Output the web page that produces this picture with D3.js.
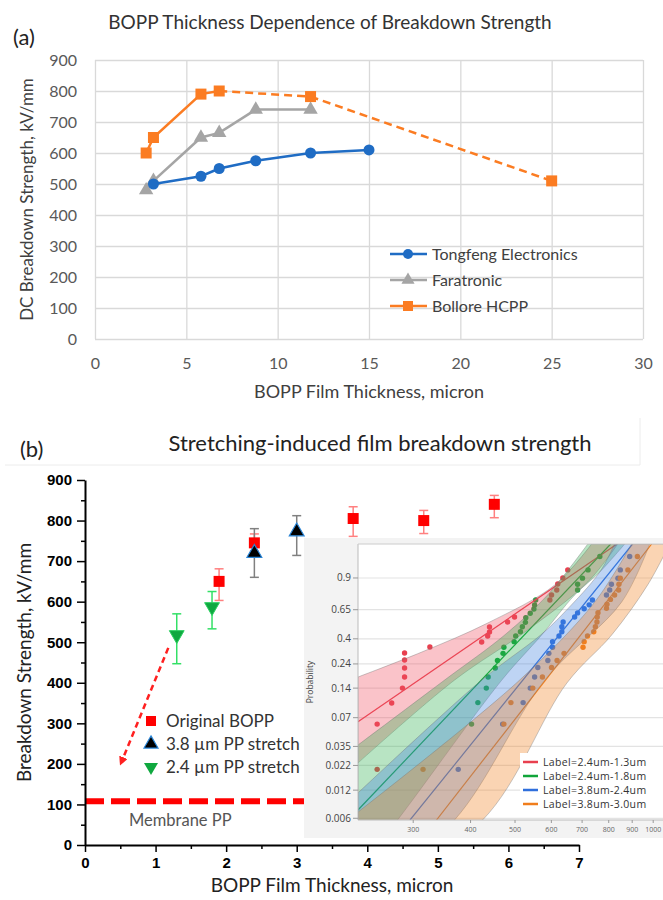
<!DOCTYPE html>
<html><head><meta charset="utf-8">
<script src="https://cdn.jsdelivr.net/npm/d3@7/dist/d3.min.js"></script>
<style>html,body{margin:0;padding:0;background:#fff;} svg{display:block;}</style>
</head><body>
<svg id="fig" width="663" height="900"></svg>
<script>
// ================= Panel (a) data =================
const seriesNamesA = ["Tongfeng Electronics", "Faratronic", "Bollore HCPP"];
const tongfengThickness = [3.2, 5.8, 6.8, 8.8, 11.8, 15];
const tongfengStrength  = [500, 525, 550, 575, 600, 610];
const faratronicThickness = [2.8, 3.2, 5.8, 6.8, 8.8, 11.8];
const faratronicStrength  = [480, 510, 650, 665, 740, 740];
const bolloreThickness = [2.8, 3.2, 5.8, 6.8, 11.8, 25];
const bolloreStrength  = [600, 650, 790, 800, 782, 510];
const bolloreDashedFrom = 3;
const aXTicks = [0, 5, 10, 15, 20, 25, 30];
const aYTicks = [0, 100, 200, 300, 400, 500, 600, 700, 800, 900];

// ================= Panel (b) data =================
const bXTicks = [0, 1, 2, 3, 4, 5, 6, 7];
const bXMinor = [0.5, 1.5, 2.5, 3.5, 4.5, 5.5, 6.5];
const bYTicks = [0, 100, 200, 300, 400, 500, 600, 700, 800, 900];
const bYMinor = [50, 150, 250, 350, 450, 550, 650, 750, 850];
const seriesNamesB = ["Original BOPP", "3.8 \u00b5m PP stretch", "2.4 \u00b5m PP stretch"];
const originalThickness = [1.9, 2.4, 3.8, 4.8, 5.8];
const originalStrength  = [650, 745, 805, 800, 840];
const originalLow       = [603, 725, 761, 768, 807];
const originalHigh      = [681, 767, 834, 825, 862];
const stretch38Thickness = [2.4, 3.0];
const stretch38Strength  = [720, 773];
const stretch38Low       = [660, 714];
const stretch38High      = [780, 812];
const stretch24Thickness = [1.3, 1.8];
const stretch24Strength  = [518, 587];
const stretch24Low       = [447, 533];
const stretch24High      = [570, 625];
const membraneStrength = 108;
const membraneLabel = "Membrane PP";
const arrowStart = [1.18, 486];
const arrowEnd   = [0.52, 206];

// ================= Inset (Weibull) data =================
const insetNames = ["Label=2.4um-1.3um", "Label=2.4um-1.8um", "Label=3.8um-2.4um", "Label=3.8um-3.0um"];
const insetPTicks = [0.9, 0.65, 0.4, 0.24, 0.14, 0.07, 0.035, 0.022, 0.012, 0.006];
const insetXTicks = [300, 400, 500, 600, 700, 800, 900, 1000];
const insetXDomain = [228, 1000];
const insetPDomain = [0.00575, 0.9952];

const redX = [251,251,270,285,288,288,288,288,327,424,437,441,441,483,500,597,602,618,621,637,653];
const redP = [0.020,0.060,0.099,0.140,0.180,0.220,0.261,0.302,0.341,0.376,0.422,0.454,0.496,0.539,0.584,0.737,0.779,0.819,0.862,0.900,0.940];
const greenX = [403,416,434,438,454,459,472,474,499,503,515,520,528,529,541,551,553,556,686,686,703,723,767];
const greenP = [0.060,0.100,0.140,0.180,0.220,0.258,0.300,0.339,0.379,0.422,0.456,0.498,0.536,0.578,0.618,0.657,0.693,0.737,0.819,0.861,0.899,0.940,0.980];
const blueX = [377,471,522,541,553,562,591,594,605,605,625,634,634,638,676,686,709,727,739,793,806,813,840,850,891];
const blueP = [0.020,0.060,0.100,0.140,0.180,0.222,0.258,0.300,0.339,0.379,0.422,0.456,0.498,0.539,0.584,0.621,0.659,0.694,0.737,0.779,0.819,0.861,0.899,0.940,0.980];
const orangeX = [316,474,491,548,575,602,619,641,705,709,721,744,750,756,757,760,793,795,809,826,843,844,850,883,926];
const orangeP = [0.020,0.060,0.100,0.140,0.180,0.222,0.258,0.300,0.339,0.379,0.422,0.456,0.498,0.539,0.584,0.623,0.663,0.699,0.742,0.779,0.819,0.861,0.899,0.940,0.980];

const fitRed    = [[228, 0.0636], [836, 0.9952]];
const fitGreen  = [[228, 0.00736], [810, 0.9952]];
const fitBlue   = [[296, 0.00575], [904, 0.9952]];
const fitOrange = [[338, 0.00575], [995, 0.9952]];

const bandRedUpper    = [[228,0.180],[314,0.308],[437,0.530],[612,0.856],[736,0.9952]];
const bandRedLower    = [[228,0.0234],[370,0.168],[534,0.470],[722,0.876],[839,0.9952]];
const bandGreenUpper  = [[228,0.0362],[352,0.168],[476,0.430],[590,0.779],[722,0.9952]];
const bandGreenLower  = [[228,0.00167],[278,0.00575],[469,0.168],[573,0.430],[676,0.779],[767,0.931],[869,0.9952]];
const bandBlueUpper   = [[228,0.0112],[424,0.168],[570,0.430],[643,0.629],[767,0.931],[826,0.9952]];
const bandBlueLower   = [[228,0.0008],[370,0.00575],[582,0.168],[856,0.720],[985,0.9952]];
const bandOrangeUpper = [[228,0.0070],[513,0.168],[748,0.720],[900,0.9952]];
const bandOrangeLower = [[228,0.0008],[426,0.00575],[650,0.157],[814,0.430],[975,0.856],[1089,0.9952]];

// ================= drawing =================
const svg = d3.select("#fig");
const FC = "Lato, 'Open Sans', sans-serif";
const FA = "'Liberation Sans', Arial, sans-serif";
const FO = "'Open Sans', 'Noto Sans', sans-serif";

// ---------- Panel (a) ----------
const colA = ["#1f6cc4", "#a5a5a5", "#fb7c22"];
const ax = d3.scaleLinear().domain([0, 30]).range([95, 643]);
const ay = d3.scaleLinear().domain([0, 900]).range([339, 60]);
const gA = svg.append("g");

gA.append("text").attr("x", 13).attr("y", 45).text("(a)")
  .attr("font-family", FC).attr("font-size", 22).attr("fill", "#222");
gA.append("text").attr("x", 330).attr("y", 29).attr("text-anchor", "middle")
  .text("BOPP Thickness Dependence of Breakdown Strength")
  .attr("font-family", FC).attr("font-size", 19).attr("fill", "#333");

gA.append("g").attr("transform", `translate(0,${ay(0)})`)
  .call(d3.axisBottom(ax).tickValues(aXTicks).tickSize(-(ay(0) - ay(900))).tickPadding(19))
  .call(g => {
    g.select(".domain").remove();
    g.selectAll(".tick line").attr("stroke", "#d9d9d9").attr("stroke-width", 1.3);
    g.selectAll("text").attr("font-family", FC).attr("font-size", 16).attr("fill", "#595959");
  });
gA.append("g").attr("transform", `translate(${ax(0)},0)`)
  .call(d3.axisLeft(ay).tickValues(aYTicks).tickSize(-(ax(30) - ax(0))).tickPadding(18))
  .call(g => {
    g.select(".domain").remove();
    g.selectAll(".tick line").attr("stroke", "#d9d9d9").attr("stroke-width", 1.3);
    g.selectAll("text").attr("font-family", FC).attr("font-size", 16).attr("fill", "#595959");
  });

gA.append("text").attr("x", 369).attr("y", 398).attr("text-anchor", "middle")
  .text("BOPP Film Thickness, micron")
  .attr("font-family", FC).attr("font-size", 18).attr("fill", "#404040");
gA.append("text").attr("transform", `translate(33,${(ay(0) + ay(900)) / 2}) rotate(-90)`)
  .attr("text-anchor", "middle").text("DC Breakdown Strength, kV/mm")
  .attr("font-family", FC).attr("font-size", 17).attr("fill", "#404040");

const lineA = d3.line().x(d => ax(d[0])).y(d => ay(d[1]));
const tong = tongfengThickness.map((t, i) => [t, tongfengStrength[i]]);
const fara = faratronicThickness.map((t, i) => [t, faratronicStrength[i]]);
const boll = bolloreThickness.map((t, i) => [t, bolloreStrength[i]]);

gA.append("path").attr("d", lineA(fara)).attr("fill", "none").attr("stroke", colA[1]).attr("stroke-width", 2.5);
gA.selectAll(".mf").data(fara).join("path")
  .attr("transform", d => `translate(${ax(d[0])},${ay(d[1])})`)
  .attr("d", d3.symbol(d3.symbolTriangle, 90)).attr("fill", colA[1]);

gA.append("path").attr("d", lineA(tong)).attr("fill", "none").attr("stroke", colA[0]).attr("stroke-width", 2.5);
gA.selectAll(".mt").data(tong).join("circle")
  .attr("cx", d => ax(d[0])).attr("cy", d => ay(d[1])).attr("r", 5.5).attr("fill", colA[0]);

gA.append("path").attr("d", lineA(boll.slice(0, bolloreDashedFrom + 1))).attr("fill", "none")
  .attr("stroke", colA[2]).attr("stroke-width", 2.5);
for (let i = bolloreDashedFrom; i < boll.length - 1; i++) {
  gA.append("path").attr("d", lineA([boll[i], boll[i + 1]])).attr("fill", "none")
    .attr("stroke", colA[2]).attr("stroke-width", 2.5).attr("stroke-dasharray", "8,5");
}
gA.selectAll(".mb").data(boll).join("rect")
  .attr("x", d => ax(d[0]) - 5.5).attr("y", d => ay(d[1]) - 5.5).attr("width", 11).attr("height", 11)
  .attr("fill", colA[2]);

// legend (a)
const legA = gA.append("g");
seriesNamesA.forEach((name, i) => {
  const yy = 254 + i * 26;
  legA.append("line").attr("x1", 390).attr("x2", 427).attr("y1", yy).attr("y2", yy)
    .attr("stroke", colA[i]).attr("stroke-width", 2.5);
  if (i === 0) legA.append("circle").attr("cx", 408).attr("cy", yy).attr("r", 5).attr("fill", colA[0]);
  if (i === 1) legA.append("path").attr("transform", `translate(408,${yy})`).attr("d", d3.symbol(d3.symbolTriangle, 75)).attr("fill", colA[1]);
  if (i === 2) legA.append("rect").attr("x", 403).attr("y", yy - 5).attr("width", 10).attr("height", 10).attr("fill", colA[2]);
  legA.append("text").attr("x", 432).attr("y", yy + 5.5).text(name)
    .attr("font-family", FC).attr("font-size", 16).attr("fill", "#404040");
});

// ---------- Panel (b) ----------
const bx = d3.scaleLinear().domain([0, 7]).range([85, 579]);
const by = d3.scaleLinear().domain([0, 900]).range([845, 480]);
const gB = svg.append("g");

gB.append("line").attr("x1", 5).attr("x2", 640).attr("y1", 465).attr("y2", 465).attr("stroke", "#ececec");
gB.append("line").attr("x1", 640).attr("x2", 640).attr("y1", 418).attr("y2", 465).attr("stroke", "#ececec");

gB.append("text").attr("x", 20).attr("y", 457).text("(b)")
  .attr("font-family", FC).attr("font-size", 22).attr("fill", "#222");
gB.append("text").attr("x", 380).attr("y", 451).attr("text-anchor", "middle")
  .text("Stretching-induced film breakdown strength")
  .attr("font-family", FC).attr("font-size", 22).attr("fill", "#222");

gB.append("line").attr("x1", bx(0)).attr("x2", bx(7)).attr("y1", by(membraneStrength)).attr("y2", by(membraneStrength))
  .attr("stroke", "#ff0000").attr("stroke-width", 6).attr("stroke-dasharray", "19,7");
gB.append("text").attr("x", 129).attr("y", 826).text(membraneLabel)
  .attr("font-family", FC).attr("font-size", 16.5).attr("fill", "#555");

gB.append("g").attr("transform", `translate(${bx(0)},0)`)
  .call(d3.axisLeft(by).tickValues(bYMinor).tickSize(4).tickFormat(""))
  .call(g => { g.select(".domain").remove(); g.selectAll("line").attr("stroke", "#000").attr("stroke-width", 1.5); });
gB.append("g").attr("transform", `translate(0,${by(0)})`)
  .call(d3.axisBottom(bx).tickValues(bXMinor).tickSize(4).tickFormat(""))
  .call(g => { g.select(".domain").remove(); g.selectAll("line").attr("stroke", "#000").attr("stroke-width", 1.5); });
gB.append("g").attr("transform", `translate(${bx(0)},0)`)
  .call(d3.axisLeft(by).tickValues(bYTicks).tickFormat(d3.format("d")).tickSize(8).tickPadding(5).tickSizeOuter(0))
  .call(g => {
    g.select(".domain").attr("stroke", "#000").attr("stroke-width", 2);
    g.selectAll(".tick line").attr("stroke", "#000").attr("stroke-width", 1.5);
    g.selectAll("text").attr("font-family", FA).attr("font-weight", "bold").attr("font-size", 15).attr("fill", "#000");
  });
gB.append("g").attr("transform", `translate(0,${by(0)})`)
  .call(d3.axisBottom(bx).tickValues(bXTicks).tickFormat(d3.format("d")).tickSize(7).tickPadding(5).tickSizeOuter(0))
  .call(g => {
    g.select(".domain").attr("stroke", "#000").attr("stroke-width", 2);
    g.selectAll(".tick line").attr("stroke", "#000").attr("stroke-width", 1.5);
    g.selectAll("text").attr("font-family", FA).attr("font-weight", "bold").attr("font-size", 15).attr("fill", "#000");
  });

gB.append("text").attr("x", 332).attr("y", 892).attr("text-anchor", "middle")
  .text("BOPP Film Thickness, micron")
  .attr("font-family", FC).attr("font-size", 19).attr("fill", "#222");
gB.append("text").attr("transform", `translate(31,${(by(0) + by(900)) / 2}) rotate(-90)`)
  .attr("text-anchor", "middle").text("Breakdown Strength, kV/mm")
  .attr("font-family", FC).attr("font-size", 19).attr("fill", "#222");

const defs = svg.append("defs");
defs.append("marker").attr("id", "ah").attr("viewBox", "0 0 10 10").attr("refX", 5).attr("refY", 5)
  .attr("markerWidth", 9).attr("markerHeight", 9).attr("markerUnits", "userSpaceOnUse").attr("orient", "auto")
  .append("path").attr("d", "M0,0 L10,5 L0,10 z").attr("fill", "#ff2020");
gB.append("line").attr("x1", bx(arrowStart[0])).attr("y1", by(arrowStart[1]))
  .attr("x2", bx(arrowEnd[0])).attr("y2", by(arrowEnd[1]))
  .attr("stroke", "#ff2020").attr("stroke-width", 2.5).attr("stroke-dasharray", "6,4")
  .attr("marker-end", "url(#ah)");

function errBars(xs, lo, hi, color) {
  xs.forEach((x, i) => {
    const X = bx(x);
    gB.append("line").attr("x1", X).attr("x2", X).attr("y1", by(lo[i])).attr("y2", by(hi[i])).attr("stroke", color).attr("stroke-width", 1.5);
    [lo[i], hi[i]].forEach(v => gB.append("line").attr("x1", X - 4.5).attr("x2", X + 4.5).attr("y1", by(v)).attr("y2", by(v)).attr("stroke", color).attr("stroke-width", 1.5));
  });
}
errBars(originalThickness, originalLow, originalHigh, "#ff8080");
errBars(stretch38Thickness, stretch38Low, stretch38High, "#808080");
errBars(stretch24Thickness, stretch24Low, stretch24High, "#33e066");

const sq = d3.symbol(d3.symbolSquare, 121);
const tri = d3.symbol(d3.symbolTriangle, 95);
originalThickness.forEach((t, i) => gB.append("path").attr("d", sq)
  .attr("transform", `translate(${bx(t)},${by(originalStrength[i])})`).attr("fill", "#ff0000"));
stretch38Thickness.forEach((t, i) => gB.append("path").attr("d", tri)
  .attr("transform", `translate(${bx(t)},${by(stretch38Strength[i])})`).attr("fill", "#000").attr("stroke", "#2a86d8").attr("stroke-width", 1.2));
stretch24Thickness.forEach((t, i) => gB.append("path").attr("d", tri)
  .attr("transform", `translate(${bx(t)},${by(stretch24Strength[i])}) rotate(180)`).attr("fill", "#0fa83f").attr("stroke", "#2bd060").attr("stroke-width", 1));

const legBY = [721, 744, 767];
seriesNamesB.forEach((name, i) => {
  const p = gB.append("path").attr("transform", `translate(151,${legBY[i]})${i === 2 ? " rotate(180)" : ""}`);
  if (i === 0) p.attr("d", d3.symbol(d3.symbolSquare, 100)).attr("fill", "#ff0000");
  if (i === 1) p.attr("d", d3.symbol(d3.symbolTriangle, 85)).attr("fill", "#000").attr("stroke", "#2a86d8").attr("stroke-width", 1.2);
  if (i === 2) p.attr("d", d3.symbol(d3.symbolTriangle, 85)).attr("fill", "#0fa83f");
  gB.append("text").attr("x", 166).attr("y", legBY[i] + 6).text(name)
    .attr("font-family", FC).attr("font-size", 17).attr("fill", "#333");
});

// ---------- Inset ----------
const gI = svg.append("g");
gI.append("rect").attr("x", 304).attr("y", 538).attr("width", 359).attr("height", 300).attr("fill", "#f3f3f3");
const PL = 358, PT = 544, PB = 820, PR = 663;
gI.append("rect").attr("x", PL).attr("y", PT).attr("width", PR - PL).attr("height", PB - PT).attr("fill", "#fff");

const wb = p => Math.log(-Math.log(1 - p));
const yW = d3.scaleLinear().domain([wb(insetPDomain[0]), wb(insetPDomain[1])]).range([PB, PT]);
const iy = p => yW(wb(p));
const ix = d3.scaleLog().domain(insetXDomain).range([PL, 652.7]);

gI.append("g").selectAll("line").data(insetPTicks).join("line")
  .attr("x1", PL).attr("x2", PR).attr("y1", d => iy(d)).attr("y2", d => iy(d))
  .attr("stroke", "#e3e3e3").attr("stroke-width", 1.2);

defs.append("clipPath").attr("id", "ic").append("rect").attr("x", PL).attr("y", PT).attr("width", PR - PL).attr("height", PB - PT);
const gC = gI.append("g").attr("clip-path", "url(#ic)");

const insetCols = ["#e8404f", "#10a53a", "#2f6fdc", "#f07d1c"];
const bandFill = ["#f05060", "#30b050", "#4080e0", "#f08020"];
const pts = [[redX, redP], [greenX, greenP], [blueX, blueP], [orangeX, orangeP]];
const fits = [fitRed, fitGreen, fitBlue, fitOrange];
const bands = [[bandRedUpper, bandRedLower], [bandGreenUpper, bandGreenLower], [bandBlueUpper, bandBlueLower], [bandOrangeUpper, bandOrangeLower]];

pts.forEach(([xs, ps], k) => {
  xs.forEach((x, i) => gC.append("circle").attr("cx", ix(x)).attr("cy", iy(ps[i])).attr("r", 2.7).attr("fill", insetCols[k]));
});
const lineI = d3.line().x(d => ix(d[0])).y(d => iy(d[1]));
fits.forEach((f, k) => gC.append("path").attr("d", lineI(f)).attr("fill", "none").attr("stroke", insetCols[k]).attr("stroke-width", 1.2));
const curveI = d3.line().x(d => ix(d[0])).y(d => iy(d[1])).curve(d3.curveCatmullRom.alpha(0.5));
bands.forEach(([up, lo], k) => {
  const d = curveI(up) + curveI(lo.slice().reverse()).replace(/^M/, "L") + "Z";
  gC.append("path").attr("d", d).attr("fill", bandFill[k]).attr("fill-opacity", 0.34)
    .attr("stroke", "#777").attr("stroke-opacity", 0.5).attr("stroke-width", 0.8);
});

gI.append("line").attr("x1", PL).attr("x2", PL).attr("y1", PT).attr("y2", PB).attr("stroke", "#bbb");
gI.append("line").attr("x1", PL).attr("x2", PR).attr("y1", PT).attr("y2", PT).attr("stroke", "#ccc");
gI.append("line").attr("x1", PL).attr("x2", PR).attr("y1", PB).attr("y2", PB).attr("stroke", "#bbb");

insetPTicks.forEach(p => {
  gI.append("line").attr("x1", PL - 5).attr("x2", PL).attr("y1", iy(p)).attr("y2", iy(p)).attr("stroke", "#999");
  gI.append("text").attr("x", PL - 7).attr("y", iy(p) + 3.5).attr("text-anchor", "end").text(p)
    .attr("font-family", FO).attr("font-size", 10).attr("fill", "#444");
});
gI.append("g").attr("transform", `translate(0,${PB})`)
  .call(d3.axisBottom(ix).tickValues(insetXTicks).tickFormat(d3.format("d")).tickSize(3).tickPadding(4))
  .call(g => {
    g.select(".domain").remove();
    g.selectAll(".tick line").attr("stroke", "#999");
    g.selectAll("text").attr("font-family", FO).attr("font-size", 7).attr("fill", "#666");
  });
gI.append("text").attr("transform", "translate(313,682) rotate(-90)").attr("text-anchor", "middle")
  .text("Probability").attr("font-family", FO).attr("font-size", 8.5).attr("fill", "#444");

gI.append("rect").attr("x", 520).attr("y", 753).attr("width", 143).attr("height", 58).attr("fill", "#fff");
insetNames.forEach((name, i) => {
  const yy = 762 + i * 14;
  gI.append("line").attr("x1", 523).attr("x2", 538).attr("y1", yy).attr("y2", yy).attr("stroke", insetCols[i]).attr("stroke-width", 2.5);
  gI.append("text").attr("x", 543).attr("y", yy + 4).text(name)
    .attr("font-family", FO).attr("font-size", 10.5).attr("letter-spacing", 0.35).attr("fill", "#333");
});
</script>
</body></html>
